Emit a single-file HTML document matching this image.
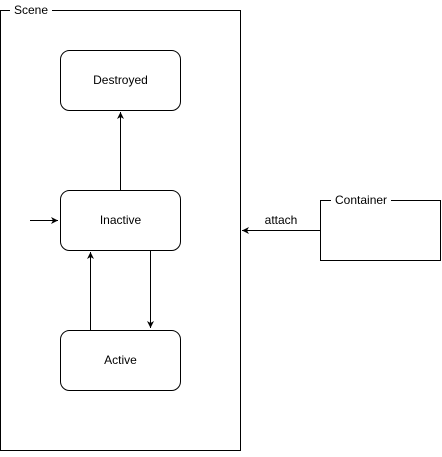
<!DOCTYPE html>
<html><head><style>body{margin:0;background:#fff}</style></head><body>
<svg width="442" height="452" xmlns="http://www.w3.org/2000/svg" font-family="Liberation Sans, Arial, sans-serif" font-size="12">
<defs><marker id="a" markerWidth="8" markerHeight="8" refX="7" refY="4" orient="auto" markerUnits="userSpaceOnUse"><path d="M0,0.5 L7,4 L0,7.5 L2,4 Z" fill="#000"/></marker></defs>
<g fill="none" stroke="#000" stroke-width="1">
<rect x="0.5" y="10.5" width="240" height="440"/>
<rect x="320.5" y="200.5" width="120" height="60"/>
<rect x="60.5" y="50.5" width="120" height="60" rx="9"/>
<rect x="60.5" y="190.5" width="120" height="60" rx="9"/>
<rect x="60.5" y="330.5" width="120" height="60" rx="9"/>
<line x1="120.5" y1="190" x2="120.5" y2="112" marker-end="url(#a)"/>
<line x1="30" y1="220.5" x2="58" y2="220.5" marker-end="url(#a)"/>
<line x1="150.5" y1="250" x2="150.5" y2="328" marker-end="url(#a)"/>
<line x1="90.5" y1="330" x2="90.5" y2="252" marker-end="url(#a)"/>
<line x1="320" y1="230.5" x2="242" y2="230.5" marker-end="url(#a)"/>
</g>
<rect x="10" y="3" width="42" height="14" fill="#fff"/>
<text x="14" y="14">Scene</text>
<rect x="331" y="193" width="60" height="14" fill="#fff"/>
<text x="335" y="204">Container</text>
<text x="281" y="224" text-anchor="middle">attach</text>
<text x="120.5" y="84" text-anchor="middle">Destroyed</text>
<text x="120.5" y="224" text-anchor="middle">Inactive</text>
<text x="120.5" y="364" text-anchor="middle">Active</text>
</svg>
</body></html>
